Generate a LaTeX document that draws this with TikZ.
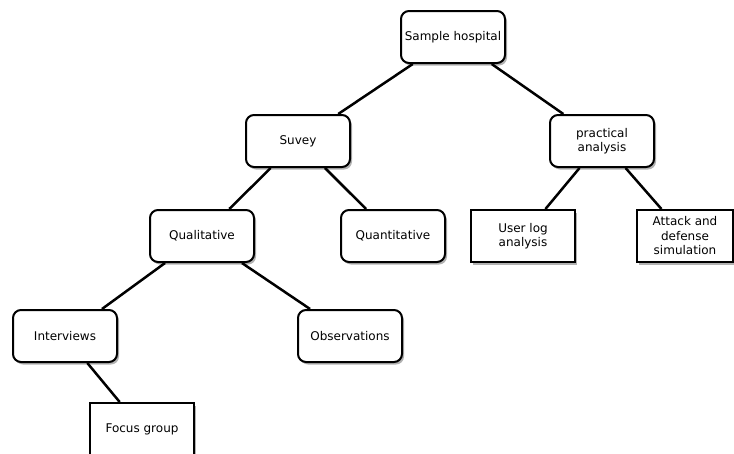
\documentclass[tikz,border=0pt]{standalone}
\usepackage{fontspec}
\setmainfont{DejaVu Sans}
\usetikzlibrary{shadows}
\begin{document}
\begin{tikzpicture}[x=1pt,y=-1pt,
  box/.style={draw=black, line width=2pt, fill=white,
    minimum width=104pt, minimum height=52pt, inner sep=0pt,
    align=center, font=\fontsize{12}{14.5}\selectfont,
    drop shadow={shadow xshift=2pt, shadow yshift=-2.5pt, fill=black!30, opacity=1}},
  rbox/.style={box, rounded corners=8pt},
  link/.style={line width=2.5pt}]
\useasboundingbox (0,0) rectangle (734,453);

% tree nodes
\node[rbox] (root) at (453,37) {Sample hospital};
\node[rbox] (survey) at (298,141) {Suvey};
\node[rbox] (practical) at (602,141) {practical\\analysis};
\node[rbox] (qual) at (202,236) {Qualitative};
\node[rbox] (quant) at (393,236) {Quantitative};
\node[box] (userlog) at (523,236) {User log\\analysis};
\node[box, minimum width=96pt] (attack) at (685,236) {Attack and\\defense\\simulation};
\node[rbox] (interviews) at (65,336) {Interviews};
\node[rbox] (observations) at (350,336) {Observations};
\node[box] (focus) at (142,429) {Focus group};

% connectors
\draw[link] (root) -- (survey);
\draw[link] (root) -- (practical);
\draw[link] (survey) -- (qual);
\draw[link] (survey) -- (quant);
\draw[link] (practical) -- (userlog);
\draw[link] (practical) -- (attack);
\draw[link] (qual) -- (interviews);
\draw[link] (qual) -- (observations);
\draw[link] (interviews) -- (focus);
\end{tikzpicture}
\end{document}
